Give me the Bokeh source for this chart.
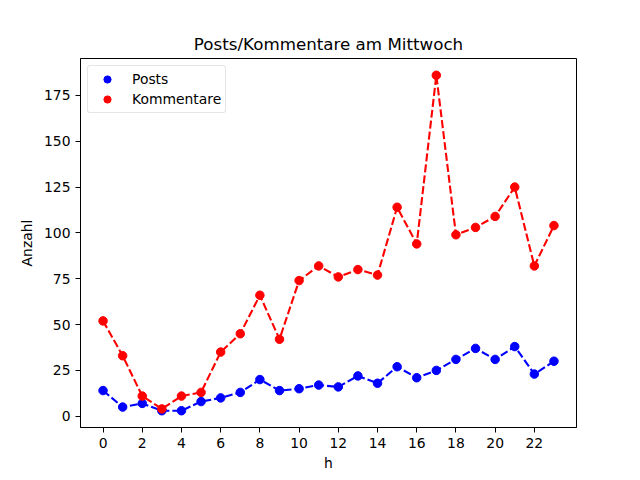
from bokeh.plotting import figure
from bokeh.models import Range1d, FixedTicker, Legend, LegendItem
from bokeh.embed import file_html
from bokeh.resources import INLINE

hours = list(range(24))
posts = [14, 5, 7, 3, 3, 8, 10, 13, 20, 14, 15, 17, 16, 22, 18, 27, 21, 25, 31, 37, 31, 38, 23, 30]
kommentare = [52, 33, 11, 4, 11, 13, 35, 45, 66, 42, 74, 82, 76, 80, 77, 114, 94, 186, 99, 103, 109, 125, 82, 104]
x_ticks = list(range(0, 24, 2))
y_ticks = list(range(0, 200, 25))

FONT = "DejaVu Sans"

p = figure(width=640, height=480, output_backend="svg", toolbar_location=None,
           x_range=Range1d(-1.15, 24.15), y_range=Range1d(-6.15, 195.15),
           min_border_left=80, min_border_right=64, min_border_top=58, min_border_bottom=53)

p.title.text = "Posts/Kommentare am Mittwoch"
p.title.align = "center"
p.title.text_font = FONT
p.title.text_font_size = "16.7px"
p.title.text_font_style = "normal"
p.title.text_color = "black"
p.title.offset = 0

p.xgrid.visible = False
p.ygrid.visible = False
p.outline_line_color = "black"
p.outline_line_width = 1

for ax in (p.xaxis[0], p.yaxis[0]):
    ax.major_label_text_font = FONT
    ax.major_label_text_font_size = "13.9px"
    ax.axis_label_text_font = FONT
    ax.axis_label_text_font_size = "13.9px"
    ax.axis_label_text_font_style = "normal"
    ax.axis_label_text_color = "black"
    ax.minor_tick_line_color = None
    ax.major_tick_in = 0
    ax.major_tick_out = 5
    ax.axis_line_color = "black"
    ax.major_tick_line_color = "black"
    ax.major_label_text_color = "black"

p.xaxis.ticker = FixedTicker(ticks=x_ticks)
p.yaxis.ticker = FixedTicker(ticks=y_ticks)
p.xaxis.axis_label = "h"
p.yaxis.axis_label = "Anzahl"
p.xaxis.axis_label_standoff = 4
p.yaxis.axis_label_standoff = 6

p.line(hours, posts, line_color="blue", line_width=2.1, line_dash="8 3")
r1 = p.scatter(hours, posts, size=8.5, fill_color="blue", line_color="blue")
p.line(hours, kommentare, line_color="red", line_width=2.1, line_dash="8 3")
r2 = p.scatter(hours, kommentare, size=8.5, fill_color="red", line_color="red")

legend = Legend(items=[LegendItem(label="Posts", renderers=[r1]),
                       LegendItem(label="Kommentare", renderers=[r2])],
                location="top_left")
legend.label_text_font = FONT
legend.label_text_font_size = "13.9px"
legend.label_text_color = "black"
legend.border_line_color = "#cccccc"
legend.border_line_width = 1
legend.border_radius = 3
legend.margin = 7
legend.padding = 4
legend.spacing = 2
legend.glyph_width = 30
legend.label_standoff = 10
legend.label_height = 18
legend.glyph_height = 18
p.add_layout(legend)

open("out.html", "w").write(file_html(p, INLINE))
